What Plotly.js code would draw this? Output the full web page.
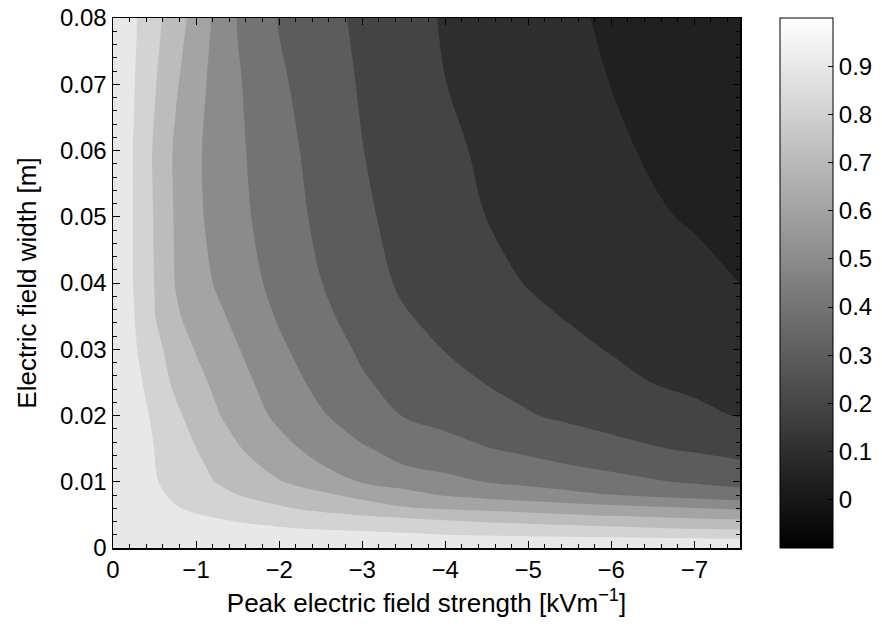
<!DOCTYPE html>
<html><head><meta charset="utf-8">
<script src="https://cdn.plot.ly/plotly-3.0.1.min.js"></script>
<style>html,body{margin:0;padding:0;background:#fff}</style>
</head><body>
<div id="chart" style="width:882px;height:633px"></div>
<script>
// Peak electric field strength [kV/m] (x) and electric field width [m] (y)
const fieldStrength = [0, -0.25, -0.5, -0.75, -1, -1.25, -1.5, -2, -2.5, -3, -3.5, -4, -4.5, -5, -5.5, -6, -6.5, -7, -7.55];
const fieldWidth = [0, 0.001, 0.002, 0.003, 0.004, 0.005, 0.006, 0.008, 0.01, 0.0125, 0.015, 0.02, 0.025, 0.03, 0.035, 0.04, 0.05, 0.06, 0.07, 0.08];

// Values, one row per field width
const w0000 = [1, 1, 1, 1, 1, 1, 1, 1, 1, 1, 1, 1, 1, 1, 1, 1, 1, 1, 1];
const w0010 = [1, 0.998, 0.995, 0.992, 0.989, 0.985, 0.982, 0.976, 0.970, 0.964, 0.958, 0.953, 0.948, 0.944, 0.940, 0.937, 0.934, 0.931, 0.928];
const w0020 = [1, 0.994, 0.988, 0.981, 0.975, 0.969, 0.963, 0.950, 0.938, 0.926, 0.913, 0.901, 0.894, 0.888, 0.882, 0.876, 0.870, 0.863, 0.857];
const w0030 = [1, 0.988, 0.976, 0.964, 0.952, 0.940, 0.928, 0.905, 0.891, 0.880, 0.869, 0.858, 0.847, 0.836, 0.825, 0.814, 0.803, 0.794, 0.785];
const w0040 = [1, 0.983, 0.965, 0.948, 0.930, 0.913, 0.898, 0.880, 0.862, 0.844, 0.826, 0.809, 0.794, 0.782, 0.770, 0.757, 0.745, 0.733, 0.720];
const w0050 = [1, 0.976, 0.952, 0.928, 0.904, 0.889, 0.875, 0.847, 0.820, 0.795, 0.777, 0.759, 0.741, 0.723, 0.705, 0.691, 0.679, 0.666, 0.652];
const w0060 = [1, 0.969, 0.937, 0.906, 0.885, 0.867, 0.848, 0.812, 0.776, 0.742, 0.708, 0.689, 0.675, 0.661, 0.646, 0.632, 0.618, 0.604, 0.585];
const w0080 = [1, 0.960, 0.919, 0.885, 0.857, 0.829, 0.801, 0.759, 0.718, 0.676, 0.632, 0.594, 0.571, 0.548, 0.525, 0.502, 0.482, 0.462, 0.440];
const w0100 = [1, 0.953, 0.907, 0.869, 0.832, 0.796, 0.766, 0.706, 0.648, 0.594, 0.561, 0.528, 0.497, 0.475, 0.453, 0.430, 0.408, 0.389, 0.369];
const w0125 = [1, 0.951, 0.902, 0.860, 0.818, 0.777, 0.737, 0.666, 0.603, 0.552, 0.501, 0.475, 0.451, 0.426, 0.401, 0.380, 0.359, 0.338, 0.315];
const w0150 = [1, 0.949, 0.899, 0.849, 0.801, 0.754, 0.708, 0.632, 0.567, 0.509, 0.472, 0.438, 0.404, 0.379, 0.355, 0.331, 0.307, 0.288, 0.269];
const w0200 = [1, 0.943, 0.884, 0.820, 0.762, 0.708, 0.662, 0.579, 0.510, 0.451, 0.396, 0.366, 0.336, 0.306, 0.282, 0.260, 0.238, 0.216, 0.196];
const w0250 = [1, 0.932, 0.855, 0.782, 0.728, 0.679, 0.634, 0.548, 0.473, 0.410, 0.369, 0.332, 0.297, 0.272, 0.248, 0.224, 0.199, 0.186, 0.171];
const w0300 = [1, 0.914, 0.830, 0.757, 0.694, 0.649, 0.605, 0.517, 0.446, 0.386, 0.341, 0.297, 0.271, 0.245, 0.219, 0.195, 0.180, 0.164, 0.147];
const w0350 = [1, 0.904, 0.804, 0.714, 0.663, 0.619, 0.576, 0.490, 0.421, 0.362, 0.307, 0.275, 0.247, 0.218, 0.194, 0.177, 0.159, 0.142, 0.123];
const w0400 = [1, 0.897, 0.798, 0.697, 0.642, 0.590, 0.548, 0.470, 0.402, 0.337, 0.287, 0.256, 0.225, 0.196, 0.177, 0.158, 0.140, 0.121, 0.099];
const w0500 = [1, 0.896, 0.793, 0.691, 0.619, 0.568, 0.525, 0.449, 0.379, 0.315, 0.272, 0.236, 0.199, 0.176, 0.154, 0.131, 0.108, 0.093, 0.080];
const w0600 = [1, 0.896, 0.788, 0.686, 0.615, 0.563, 0.517, 0.435, 0.365, 0.302, 0.259, 0.218, 0.186, 0.161, 0.137, 0.112, 0.092, 0.077, 0.060];
const w0700 = [1, 0.905, 0.808, 0.713, 0.633, 0.567, 0.510, 0.416, 0.349, 0.291, 0.246, 0.201, 0.175, 0.150, 0.124, 0.099, 0.083, 0.068, 0.050];
const w0800 = [1, 0.914, 0.830, 0.747, 0.663, 0.577, 0.496, 0.394, 0.335, 0.280, 0.233, 0.192, 0.164, 0.137, 0.110, 0.090, 0.074, 0.058, 0.040];

const colorbarTickVals = [0, 0.1, 0.2, 0.3, 0.4, 0.5, 0.6, 0.7, 0.8, 0.9];
const colorbarTickText = ['0', '0.1', '0.2', '0.3', '0.4', '0.5', '0.6', '0.7', '0.8', '0.9'];

const zGrid = [w0000, w0010, w0020, w0030, w0040, w0050, w0060, w0080, w0100, w0125, w0150,
               w0200, w0250, w0300, w0350, w0400, w0500, w0600, w0700, w0800];

const FONT = 'Liberation Sans, Arial, Helvetica, sans-serif';
const TICK = 24, TITLE = 26;

const heat = {
  type: 'heatmap', x: fieldStrength, y: fieldWidth, z: zGrid,
  zmin: -0.1, zmax: 1.0,
  colorscale: [[0, 'rgb(0,0,0)'], [1, 'rgb(255,255,255)']],
  hoverinfo: 'skip',
  showscale: true,
  colorbar: {
    x: 1.0638, xanchor: 'left', xpad: 0,
    y: 0.5, yanchor: 'middle', ypad: 0,
    len: 1.0, lenmode: 'fraction',
    thickness: 53, thicknessmode: 'pixels',
    outlinewidth: 1, outlinecolor: '#000',
    tickmode: 'array', tickvals: colorbarTickVals, ticktext: colorbarTickText,
    ticks: 'inside', ticklen: 5, tickcolor: '#000',
    tickfont: {family: FONT, size: TICK, color: '#000'}
  }
};

// band colours (lower contour level -> grey), matching the MATLAB-style filled contours
const cont = {
  type: 'contour', x: fieldStrength, y: fieldWidth, z: zGrid,
  autocontour: false,
  contours: {start: 0, end: 0.9, size: 0.1, coloring: 'fill', showlines: false},
  line: {width: 0},
  colorscale: [[0, 'rgb(0,0,0)'], [0.1, 'rgb(32,32,32)'], [0.2, 'rgb(46,46,46)'], [0.3, 'rgb(68,68,68)'],
               [0.4, 'rgb(92,92,92)'], [0.5, 'rgb(115,115,115)'], [0.6, 'rgb(139,139,139)'],
               [0.7, 'rgb(164,164,164)'], [0.8, 'rgb(188,188,188)'], [0.9, 'rgb(211,211,211)'],
               [1, 'rgb(232,232,232)']],
  showscale: false,
  hoverinfo: 'skip'
};

const layout = {
  width: 882, height: 633,
  margin: {l: 113, r: 142, t: 18, b: 85, pad: 0, autoexpand: false},
  paper_bgcolor: '#fff', plot_bgcolor: '#fff',
  font: {family: FONT, size: TICK, color: '#000'},
  showlegend: false,
  xaxis: {
    range: [0, -7.55], autorange: false, automargin: false,
    tickmode: 'linear', tick0: 0, dtick: 1,
    ticks: 'inside', ticklen: 7, tickwidth: 1, tickcolor: '#000',
    mirror: 'allticks', showline: true, linecolor: '#000', linewidth: 1.5,
    showgrid: false, zeroline: false,
    minor: {ticks: 'inside', dtick: 0.2, ticklen: 4, tickwidth: 1, tickcolor: '#000', showgrid: false},
    tickfont: {family: FONT, size: TICK, color: '#000'},
    title: {text: 'Peak electric field strength [kVm<sup>−1</sup>]', font: {family: FONT, size: TITLE, color: '#000'}, standoff: 11}
  },
  yaxis: {
    range: [0, 0.08], autorange: false, automargin: false,
    tickmode: 'linear', tick0: 0, dtick: 0.01,
    ticks: 'inside', ticklen: 7, tickwidth: 1, tickcolor: '#000',
    mirror: 'allticks', showline: true, linecolor: '#000', linewidth: 1.5,
    showgrid: false, zeroline: false,
    minor: {ticks: 'inside', dtick: 0.002, ticklen: 4, tickwidth: 1, tickcolor: '#000', showgrid: false},
    tickfont: {family: FONT, size: TICK, color: '#000'},
    title: {text: 'Electric field width [m]', font: {family: FONT, size: TITLE, color: '#000'}, standoff: 16}
  }
};

Plotly.newPlot('chart', [heat, cont], layout, {displayModeBar: false, staticPlot: true});
</script>
</body></html>
